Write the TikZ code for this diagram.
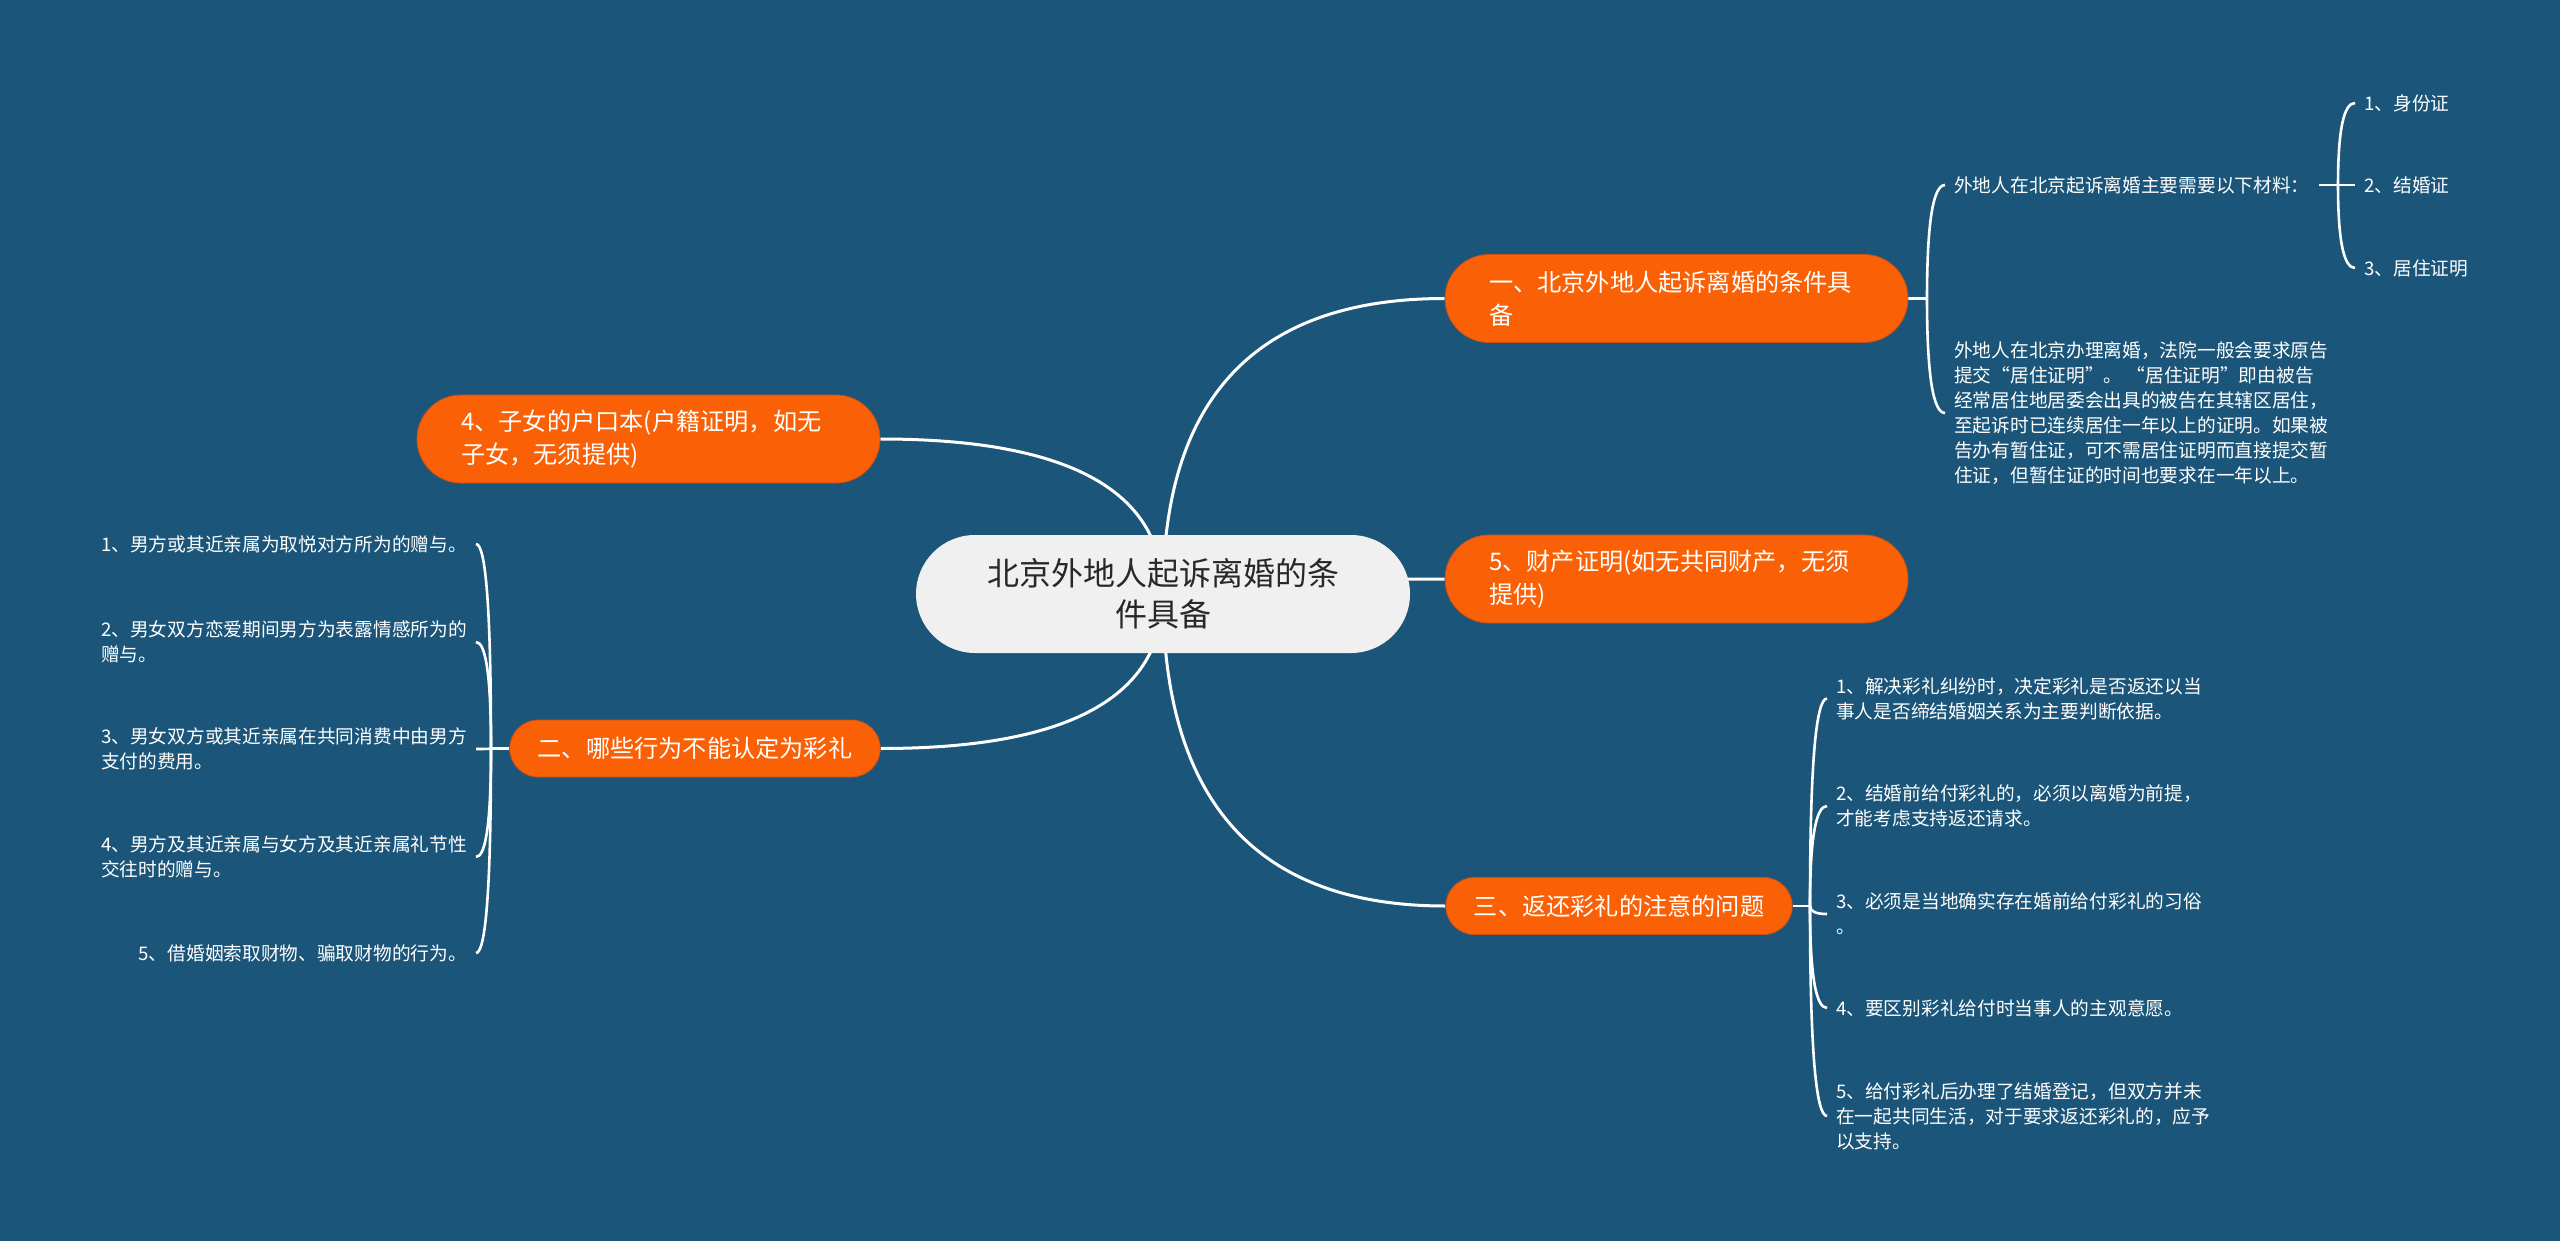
\documentclass[tikz,border=0pt]{standalone}
\usepackage{fontspec}
\setmainfont{Noto Sans CJK SC}
\usetikzlibrary{calc}
\definecolor{bgc}{RGB}{27,85,121}
\definecolor{orng}{RGB}{250,96,5}
\definecolor{orngD}{RGB}{200,80,25}
\definecolor{rootfill}{RGB}{240,240,240}
\definecolor{roottext}{RGB}{40,40,40}
\pgfdeclarelayer{bglayer}
\pgfdeclarelayer{linelayer}
\pgfsetlayers{bglayer,linelayer,main}
\newcommand\mmcurve[3][mainline]{\draw[#1] (#2) .. controls ($(#2)!2/3!(#2|-#3)$) and ($(#3)!2/3!(#2|-#3)$) .. (#3);}
\begin{document}
\begin{tikzpicture}[x=1pt,y=-1pt,
  mainline/.style={draw=white,line width=3pt},
  leafline/.style={draw=white,line width=2.6pt},
  rootbox/.style={fill=rootfill,text=roottext,rounded corners=59pt,minimum width=494pt,minimum height=118pt,inner sep=0pt,align=center,font=\fontsize{32}{41}\selectfont},
  branch/.style={fill=orng,draw=orngD,line width=0.8pt,text=white,inner ysep=0pt,font=\fontsize{24.2}{33}\selectfont},
  branchtwo/.style={branch,text width=375pt,inner xsep=44pt,minimum height=88pt,rounded corners=44pt,align=left},
  branchone/.style={branch,inner xsep=28pt,minimum height=57pt,rounded corners=28.5pt},
  leaf/.style={text=white,inner xsep=9pt,inner ysep=2pt,align=left,font=\fontsize{18.7}{25}\selectfont},
]
\begin{pgfonlayer}{bglayer}
\fill[bgc] (0,0) rectangle (2560,1241);
\end{pgfonlayer}
\useasboundingbox (0,0) rectangle (2560,1241);

% root and branches
\node[rootbox] (root) at (1163,594) {北京外地人起诉离婚的条\\件具备};
\node[branchtwo] (n1) at (1676.5,298.5) {一、北京外地人起诉离婚的条件具\\备};
\node[branchtwo] (n5) at (1676.5,579) {5、财产证明(如无共同财产，无须\\提供)};
\node[branchone] (n3) at (1619,906) {三、返还彩礼的注意的问题};
\node[branchtwo] (n4) at (648.5,439) {4、子女的户口本(户籍证明，如无\\子女，无须提供)};
\node[branchone] (n2) at (695,748.5) {二、哪些行为不能认定为彩礼};

% leaves of n1
\coordinate (j1) at (1927,298.5);
\node[leaf,anchor=west] (a1) at (1945,185) {外地人在北京起诉离婚主要需要以下材料：};
\node[leaf,anchor=west] (a2) at (1945,413) {外地人在北京办理离婚，法院一般会要求原告\\提交“居住证明”。 “居住证明”即由被告\\经常居住地居委会出具的被告在其辖区居住，\\至起诉时已连续居住一年以上的证明。如果被\\告办有暂住证，可不需居住证明而直接提交暂\\住证，但暂住证的时间也要求在一年以上。};
\coordinate (j1s) at (2338,185);
\node[leaf,anchor=west] (b1) at (2355,103) {1、身份证};
\node[leaf,anchor=west] (b2) at (2355,185) {2、结婚证};
\node[leaf,anchor=west] (b3) at (2355,268) {3、居住证明};

% leaves of n3
\coordinate (j3) at (1810,906);
\node[leaf,anchor=west] (c1) at (1827,698.5) {1、解决彩礼纠纷时，决定彩礼是否返还以当\\事人是否缔结婚姻关系为主要判断依据。};
\node[leaf,anchor=west] (c2) at (1827,806) {2、结婚前给付彩礼的，必须以离婚为前提，\\才能考虑支持返还请求。};
\node[leaf,anchor=west] (c3) at (1827,914) {3、必须是当地确实存在婚前给付彩礼的习俗\\。};
\node[leaf,anchor=west] (c4) at (1827,1008) {4、要区别彩礼给付时当事人的主观意愿。};
\node[leaf,anchor=west] (c5) at (1827,1116) {5、给付彩礼后办理了结婚登记，但双方并未\\在一起共同生活，对于要求返还彩礼的，应予\\以支持。};

% leaves of n2
\coordinate (j2) at (491,748.5);
\node[leaf,anchor=east] (d1) at (476,544) {1、男方或其近亲属为取悦对方所为的赠与。};
\node[leaf,anchor=east] (d2) at (476,642) {2、男女双方恋爱期间男方为表露情感所为的\\赠与。};
\node[leaf,anchor=east] (d3) at (476,749) {3、男女双方或其近亲属在共同消费中由男方\\支付的费用。};
\node[leaf,anchor=east] (d4) at (476,857) {4、男方及其近亲属与女方及其近亲属礼节性\\交往时的赠与。};
\node[leaf,anchor=east] (d5) at (476,953) {5、借婚姻索取财物、骗取财物的行为。};

\begin{pgfonlayer}{linelayer}
\mmcurve{root.center}{n1.west}
\mmcurve{root.center}{n5.west}
\mmcurve{root.center}{n3.west}
\mmcurve{root.center}{n4.east}
\mmcurve{root.center}{n2.east}
% n1 bracket
\draw[leafline] (n1.east) -- (j1);
\mmcurve[leafline]{j1}{a1.west}
\mmcurve[leafline]{j1}{a2.west}
\draw[leafline] (a1.east) -- (j1s);
\mmcurve[leafline]{j1s}{b1.west}
\mmcurve[leafline]{j1s}{b2.west}
\mmcurve[leafline]{j1s}{b3.west}
% n3 bracket
\draw[leafline] (n3.east) -- (j3);
\mmcurve[leafline]{j3}{c1.west}
\mmcurve[leafline]{j3}{c2.west}
\mmcurve[leafline]{j3}{c3.west}
\mmcurve[leafline]{j3}{c4.west}
\mmcurve[leafline]{j3}{c5.west}
% n2 bracket
\draw[leafline] (n2.west) -- (j2);
\mmcurve[leafline]{j2}{d1.east}
\mmcurve[leafline]{j2}{d2.east}
\mmcurve[leafline]{j2}{d3.east}
\mmcurve[leafline]{j2}{d4.east}
\mmcurve[leafline]{j2}{d5.east}
\end{pgfonlayer}
\end{tikzpicture}
\end{document}
